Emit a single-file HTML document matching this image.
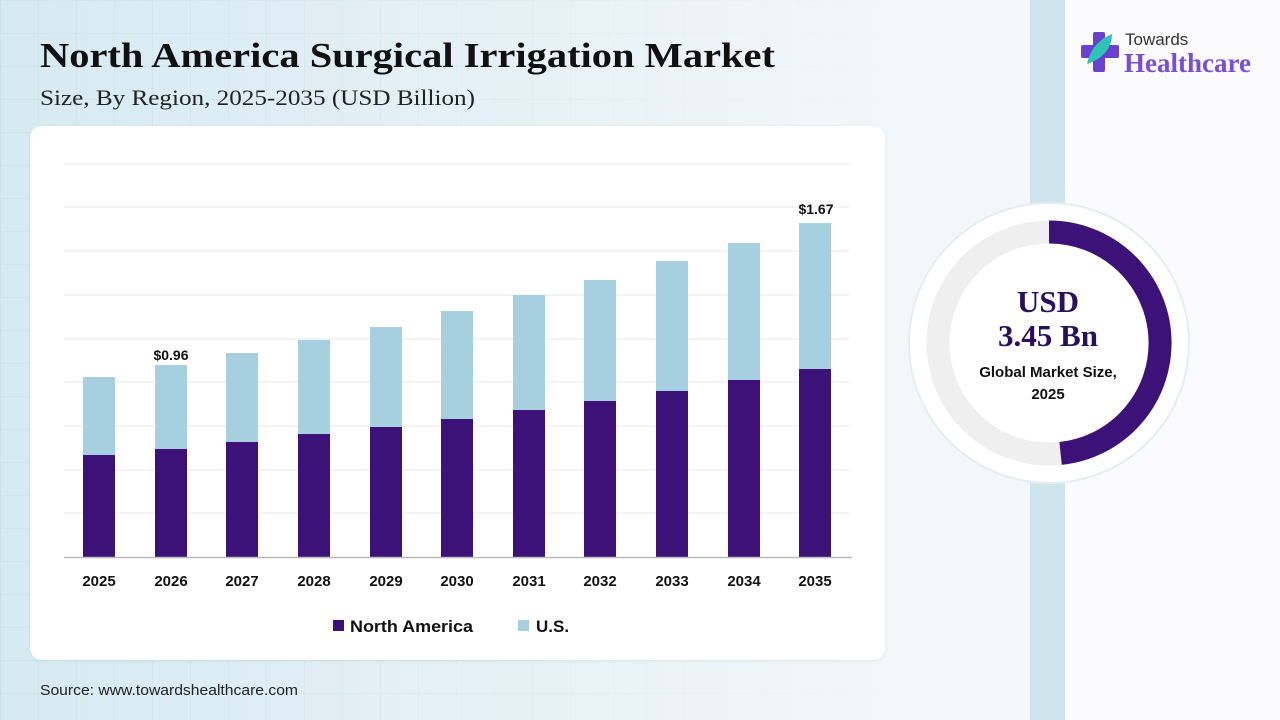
<!DOCTYPE html>
<html><head><meta charset="utf-8"><style>
*{margin:0;padding:0;box-sizing:border-box}
body{width:1280px;height:720px;overflow:hidden;position:relative;font-family:"Liberation Sans",sans-serif;
background:linear-gradient(90deg,#d6eaf2 0%,#e6f1f6 40%,#f3f7fa 70%,#f6f8fa 100%);}
.grid{position:absolute;left:0;top:0;width:1030px;height:720px;
background-image:linear-gradient(#c8dde6 1px,transparent 1px),linear-gradient(90deg,#c8dde6 1px,transparent 1px);
background-size:38px 33px;opacity:.5;
-webkit-mask-image:linear-gradient(90deg,#000 0%,rgba(0,0,0,.4) 50%,transparent 90%)}
.card{position:absolute;left:30px;top:126px;width:855px;height:534px;background:#fff;border-radius:12px;box-shadow:0 1px 4px rgba(0,0,0,.06)}
.strip{position:absolute;left:1030px;top:0;width:35px;height:720px;background:#cfe5ee}
.right{position:absolute;left:1065px;top:0;width:215px;height:720px;background:#fbfbfd}
</style></head><body>
<div class="grid"></div>
<div class="strip"></div><div class="right"></div>
<div class="card"></div>
<svg width="1280" height="720" style="position:absolute;left:0;top:0" font-family="Liberation Sans,sans-serif">
<text x="40" y="67" font-family="Liberation Serif,serif" font-weight="bold" font-size="35" fill="#111" textLength="735" lengthAdjust="spacingAndGlyphs">North America Surgical Irrigation Market</text>
<text x="40" y="105" font-family="Liberation Serif,serif" font-size="22" fill="#222" textLength="435" lengthAdjust="spacingAndGlyphs">Size, By Region, 2025-2035 (USD Billion)</text>
<g stroke="#eeeeee" stroke-width="1.3">
<line x1="64" x2="850" y1="164" y2="164"/><line x1="64" x2="850" y1="207" y2="207"/>
<line x1="64" x2="850" y1="251" y2="251"/><line x1="64" x2="850" y1="295" y2="295"/>
<line x1="64" x2="850" y1="339" y2="339"/><line x1="64" x2="850" y1="382" y2="382"/>
<line x1="64" x2="850" y1="426" y2="426"/><line x1="64" x2="850" y1="470" y2="470"/>
<line x1="64" x2="850" y1="513" y2="513"/>
</g>
<g id="bars"></g>
<line x1="64" x2="852" y1="557.5" y2="557.5" stroke="#bbb" stroke-width="1.5"/>
<g font-size="15" font-weight="bold" fill="#111" text-anchor="middle">
<text x="99" y="586">2025</text><text x="171" y="586">2026</text><text x="242" y="586">2027</text>
<text x="314" y="586">2028</text><text x="386" y="586">2029</text><text x="457" y="586">2030</text>
<text x="529" y="586">2031</text><text x="600" y="586">2032</text><text x="672" y="586">2033</text>
<text x="744" y="586">2034</text><text x="815" y="586">2035</text>
</g>
<g font-size="14" font-weight="bold" fill="#111" text-anchor="middle">
<text x="171" y="360">$0.96</text><text x="816" y="214">$1.67</text>
</g>
<rect x="333" y="620" width="11" height="11" fill="#3d1278"/>
<text x="350" y="632" font-size="17" font-weight="bold" fill="#111" textLength="123" lengthAdjust="spacingAndGlyphs">North America</text>
<rect x="518" y="620" width="11" height="11" fill="#a6d0e0"/>
<text x="536" y="632" font-size="17" font-weight="bold" fill="#111">U.S.</text>
<text x="40" y="695" font-size="15" fill="#222" textLength="258" lengthAdjust="spacingAndGlyphs">Source: www.towardshealthcare.com</text>
<circle cx="1049" cy="343" r="140" fill="#fff" stroke="#e4eef2" stroke-width="2"/>
<circle cx="1049" cy="343" r="111" fill="none" stroke="#efefef" stroke-width="23"/>
<path d="M1049 232 A111 111 0 0 1 1060.6 453.4" fill="none" stroke="#3d1278" stroke-width="23"/>
<g text-anchor="middle" fill="#2a0f5e" font-family="Liberation Serif,serif" font-weight="bold" font-size="31">
<text x="1048" y="312">USD</text><text x="1048" y="346">3.45 Bn</text></g>
<g text-anchor="middle" fill="#111" font-weight="bold" font-size="15">
<text x="1048" y="377">Global Market Size,</text><text x="1048" y="399">2025</text></g>
<rect x="1093" y="32" width="12" height="40" rx="2" fill="#6b3fd0"/>
<rect x="1081" y="45" width="38" height="13" rx="2" fill="#6b3fd0"/>
<path d="M1087 64 C1100 60 1112 50 1112 34 C1098 40 1090 50 1087 64Z" fill="#2ec4b6"/>
<text x="1125" y="45" font-size="17" fill="#333">Towards</text>
<text x="1124" y="72" font-family="Liberation Serif,serif" font-weight="bold" font-size="27" fill="#7a4fd6">Healthcare</text>
</svg>
<script>
var xs=[99,171,242,314,386,457,529,600,672,744,815],lt=[377,365,353,340,327,311,295,280,261,243,223],dk=[455,449,442,434,427,419,410,401,391,380,369],s='';
for(var i=0;i<11;i++){s+='<rect x="'+(xs[i]-16)+'" y="'+lt[i]+'" width="32" height="'+(dk[i]-lt[i])+'" fill="#a6d0e0"/>';
s+='<rect x="'+(xs[i]-16)+'" y="'+dk[i]+'" width="32" height="'+(557-dk[i])+'" fill="#3d1278"/>';}
document.getElementById('bars').innerHTML=s;
</script>
</body></html>
